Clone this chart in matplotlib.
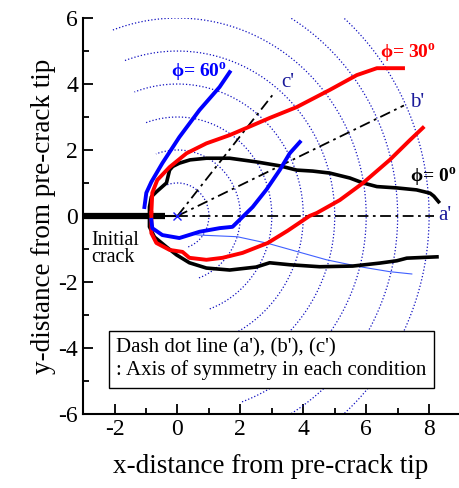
import numpy as np
import matplotlib
matplotlib.use("Agg")
import matplotlib.pyplot as plt
from matplotlib.ticker import MultipleLocator

plt.rcParams['font.family'] = ['Liberation Serif', 'DejaVu Serif']
plt.rcParams['mathtext.fontset'] = 'custom'
plt.rcParams['mathtext.rm'] = 'Liberation Serif'
plt.rcParams['mathtext.bf'] = 'Liberation Serif:bold'
plt.rcParams['axes.unicode_minus'] = False

# phi = 0 deg (black), upper and lower branch
blk_up_x = [8.30, 8.15, 8.03, 7.60, 6.97, 6.34, 5.90, 5.48, 4.84, 4.30, 3.79, 3.25, 2.50, 1.66, 0.92, 0.40, 0.06, -0.15, -0.25, -0.35, -0.67, -0.83, -0.89, -0.89]
blk_up_y = [0.43, 0.60, 0.69, 0.79, 0.85, 0.89, 1.00, 1.15, 1.30, 1.36, 1.39, 1.52, 1.64, 1.75, 1.75, 1.70, 1.60, 1.50, 1.39, 1.00, 0.73, 0.58, 0.27, 0.00]
blk_lo_x = [-0.89, -0.89, -0.73, -0.35, -0.03, 0.38, 0.92, 1.66, 2.50, 2.93, 3.57, 4.52, 5.57, 6.43, 6.97, 7.29, 8.25]
blk_lo_y = [0.00, -0.33, -0.64, -0.94, -1.18, -1.42, -1.58, -1.64, -1.55, -1.42, -1.48, -1.54, -1.52, -1.43, -1.36, -1.28, -1.24]

# phi = 30 deg (red)
red_up_x = [7.17, 6.34, 5.70, 4.84, 3.79, 2.93, 2.20, 1.66, 0.92, 0.29, -0.25, -0.64, -0.80, -0.83]
red_up_y = [4.48, 4.48, 4.27, 3.82, 3.30, 2.97, 2.67, 2.45, 2.20, 1.90, 1.48, 1.09, 0.70, 0.09]
red_lo_x = [-0.83, -0.83, -0.67, -0.25, 0.16, 0.38, 0.92, 1.43, 2.07, 2.87, 3.50, 4.20, 4.43, 5.16, 5.90, 6.75, 7.39, 7.80]
red_lo_y = [0.09, -0.52, -0.82, -1.03, -1.09, -1.27, -1.33, -1.27, -1.12, -0.82, -0.45, 0.00, 0.09, 0.48, 1.00, 1.70, 2.30, 2.67]

# phi = 60 deg (blue)
blu_up_x = [1.66, 1.34, 0.70, 0.06, -0.48, -0.83, -0.99, -1.05]
blu_up_y = [4.36, 3.91, 3.21, 2.39, 1.60, 1.03, 0.70, 0.27]
blu_lo_x = [-0.83, -0.80, -0.48, 0.06, 0.70, 1.34, 1.75, 2.07, 2.39, 2.83, 3.25, 3.57, 3.89]
blu_lo_y = [-0.12, -0.37, -0.58, -0.67, -0.48, -0.37, -0.33, -0.03, 0.27, 0.80, 1.39, 1.90, 2.24]

# thin blue line
thin_x = [0.40, 0.70, 1.90, 2.87, 4.74, 5.80, 6.75, 7.45]
thin_y = [-0.55, -0.58, -0.63, -0.83, -1.33, -1.54, -1.69, -1.76]

# symmetry axes (dash dot) end points and labels
axis_end_x = [8.15, 7.20, 3.05]
axis_end_y = [0.00, 3.35, 3.70]
axis_labels = ["a'", "b'", "c'"]
axis_lab_x = [8.30, 7.40, 3.30]
axis_lab_y = [0.00, 3.45, 4.06]

# dotted arcs around the pre-crack tip
radii = [1, 2, 3, 4, 5, 6, 7, 8]
arc_from, arc_to = -70, 110

fig = plt.figure(figsize=(4.59, 4.88), dpi=100)
ax = fig.add_axes([0.181, 0.152, 0.819, 0.811])

th = np.radians(np.linspace(arc_from, arc_to, 300))
for r in radii:
    ax.plot(r * np.cos(th), r * np.sin(th), ':', color='#1010c0', lw=0.9)

ax.plot(thin_x, thin_y, '-', color='#4060ff', lw=0.8)

for ex, ey in zip(axis_end_x, axis_end_y):
    ax.plot([0, ex], [0, ey], color='black', lw=1.3, ls=(0, (6, 2.5, 1.5, 2.5)))
for lab, lx, ly in zip(axis_labels, axis_lab_x, axis_lab_y):
    ax.text(lx, ly, lab, color='#1a1a9a', fontsize=15, ha='left', va='center')

# initial crack
ax.plot([-3, -0.41], [0, 0], color='black', lw=4.5, solid_capstyle='butt')
ax.plot([-0.41, 0], [0, 0], color='black', lw=1.5)
ax.plot([0], [0], 'x', color='#1a1aff', ms=6, mew=1.0)

ax.plot(blk_up_x, blk_up_y, color='black', lw=2.6)
ax.plot(blk_lo_x, blk_lo_y, color='black', lw=2.6)
ax.plot(red_up_x, red_up_y, color='#ff0000', lw=2.8)
ax.plot(red_lo_x, red_lo_y, color='#ff0000', lw=2.8)
ax.plot(blu_up_x, blu_up_y, color='#0000ff', lw=2.8)
ax.plot(blu_lo_x, blu_lo_y, color='#0000ff', lw=2.8)

phi_kw = dict(fontsize=14, fontweight='bold', va='center')
ax.text(-0.2, 4.36, r'ϕ= 60$^{\mathbf{o}}$', color='#0000ff', **phi_kw)
ax.text(6.43, 4.94, r'ϕ= 30$^{\mathbf{o}}$', color='#ff0000', **phi_kw)
ax.text(7.40, 1.18, r'ϕ= 0$^{\mathbf{o}}$', color='black', **phi_kw)

ax.text(-2.75, -1.0, 'Initial\ncrack', fontsize=14.5, va='center', ha='left', linespacing=0.9)

ax.text(-1.95, -4.35, "Dash dot line (a'), (b'), (c')\n: Axis of symmetry in each condition",
        fontsize=15, va='center', ha='left', linespacing=1.2,
        bbox=dict(boxstyle='square,pad=0.35', fc='white', ec='black', lw=1.0))

ax.set_xlim(-3, 8.95)
ax.set_ylim(-6, 6)
ax.xaxis.set_major_locator(MultipleLocator(2))
ax.xaxis.set_minor_locator(MultipleLocator(1))
ax.yaxis.set_major_locator(MultipleLocator(2))
ax.yaxis.set_minor_locator(MultipleLocator(1))
ax.tick_params(which='both', direction='in', width=1.3, labelsize=17)
ax.tick_params(which='major', length=7)
ax.tick_params(which='minor', length=4)
for s in ['top', 'right']:
    ax.spines[s].set_visible(False)
for s in ['left', 'bottom']:
    ax.spines[s].set_linewidth(1.5)

ax.set_xlabel('x-distance from pre-crack tip', fontsize=19.5, labelpad=10)
ax.set_ylabel('y-distance from pre-crack tip', fontsize=19.5, labelpad=2)

fig.savefig('out.png', dpi=100)
